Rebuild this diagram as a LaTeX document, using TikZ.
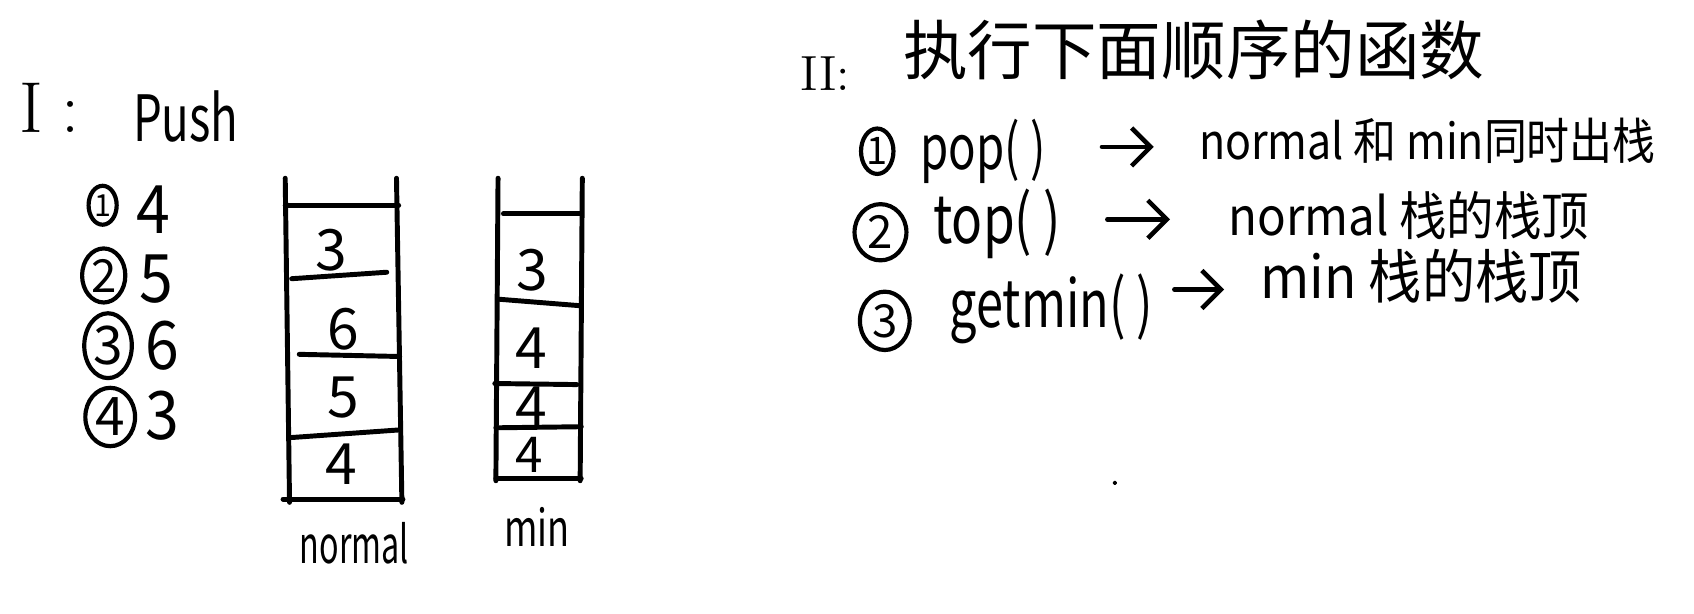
\documentclass[tikz,border=0pt]{standalone}
\usepackage{fontspec}
\setmainfont{Noto Sans CJK SC}
\newfontfamily\romanfont{Latin Modern Roman}
\usetikzlibrary{arrows.meta,shapes.geometric}
\newcommand\tallbox[2]{\scalebox{1}[#1]{#2}}
\begin{document}
\begin{tikzpicture}[x=0.01cm,y=-0.01cm,line width=1.1pt,line cap=round,line join=round,
  txt/.style={inner sep=0pt,font=\fontsize{#1}{#1}\selectfont},
  num/.style={inner sep=0pt,font=\fontsize{15}{15}\selectfont},
  cnum/.style={draw,ellipse,inner sep=0pt,font=\fontsize{#1}{#1}\selectfont},
  arr/.style={-{Straight Barb[length=5pt,width=10pt]},line width=1.2pt},
  stk/.style={line width=1.3pt}]
\useasboundingbox (0,0) rectangle (1568,568);
% ---------- Part I ----------
\node[txt=19] (t1) at (46,100) {\romanfont I\hspace{0.25em}:};
\node[txt=12] (push) at (172,108) {\tallbox{1.4}{Push}};
\node[cnum=8,minimum width=0.26cm,minimum height=0.36cm] (c1) at (95,190) {1};
\node[cnum=12,minimum width=0.40cm,minimum height=0.50cm] (c2) at (96,255) {2};
\node[cnum=14,minimum width=0.44cm,minimum height=0.60cm] (c3) at (100,320) {3};
\node[cnum=14,minimum width=0.46cm,minimum height=0.54cm] (c4) at (102,386) {4};
\node[txt=16] (v1) at (142,194) {\tallbox{1.1}{4}};
\node[txt=16] (v2) at (145,258) {\tallbox{1.1}{5}};
\node[txt=16] (v3) at (150,320) {\tallbox{1.1}{6}};
\node[txt=16] (v4) at (150,385) {\tallbox{1.1}{3}};
% normal stack
\draw[stk] (264,165) -- (268,465);
\draw[stk] (367,165) -- (372,465);
\draw[stk] (264,190) -- (369,190);
\draw[stk] (270,258) -- (358,252);
\draw[stk] (277,328) -- (370,330);
\draw[stk] (270,405) -- (369,398);
\draw[stk] (262,462) -- (373,462);
\node[num] (n3) at (307,232) {3};
\node[num] (n6) at (318,305) {6};
\node[num] (n5) at (318,368) {5};
\node[num] (n4) at (316,430) {4};
\node[txt=8.5] (lnormal) at (328,503) {\tallbox{1.6}{normal}};
% min stack
\draw[stk] (461,165) -- (459,445);
\draw[stk] (539,165) -- (537,445);
\draw[stk] (466,198) -- (537,198);
\draw[stk] (462,277) -- (537,283);
\draw[stk] (458,355) -- (534,356);
\draw[stk] (459,396) -- (538,395);
\draw[stk] (459,443) -- (538,443);
\node[num] (m3) at (493,250) {3};
\node[num] (m4a) at (492,322) {4};
\node[num] (m4b) at (492,377) {4};
\node[num,font=\fontsize{13}{13}\selectfont] (m4c) at (490,421) {4};
\node[txt=9.5] (lmin) at (497,488) {\tallbox{1.4}{min}};
% ---------- Part II ----------
\node[txt=13] (t2) at (764,68) {\romanfont II:};
\node[txt=17] (title) at (1105,46) {执行下面顺序的函数};
% row 1
\node[cnum=10,minimum width=0.30cm,minimum height=0.42cm] (d1) at (812,140) {1};
\node[txt=12,anchor=west] (pop) at (850,140) {\tallbox{1.35}{pop( )}};
\coordinate (a1s) at (1020,136);
\coordinate (a1e) at (1068,136);
\draw[arr] (a1s) -- (a1e);
\node[txt=11.3,anchor=west] (r1) at (1108,130) {\tallbox{1.15}{normal 和 min同时出栈}};
% row 2
\node[cnum=12,minimum width=0.48cm,minimum height=0.52cm] (d2) at (815,215) {2};
\node[txt=13.5,anchor=west] (top) at (862,207) {\tallbox{1.3}{top( )}};
\coordinate (a2s) at (1025,203);
\coordinate (a2e) at (1083,203);
\draw[arr] (a2s) -- (a2e);
\node[txt=12.5,anchor=west] (r2) at (1135,200) {\tallbox{1.1}{normal 栈的栈顶}};
% row 3
\node[cnum=12,minimum width=0.46cm,minimum height=0.54cm] (d3) at (819,297) {3};
\node[txt=12.8,anchor=west] (getmin) at (877,286) {\tallbox{1.35}{getmin( )}};
\coordinate (a3s) at (1087,268);
\coordinate (a3e) at (1133,268);
\draw[arr] (a3s) -- (a3e);
\node[txt=14,anchor=west] (r3) at (1165,256) {\tallbox{1.1}{min 栈的栈顶}};
% stray dot
\draw[line width=0.5pt] (1032,447) circle (1.2);
\end{tikzpicture}
\end{document}
